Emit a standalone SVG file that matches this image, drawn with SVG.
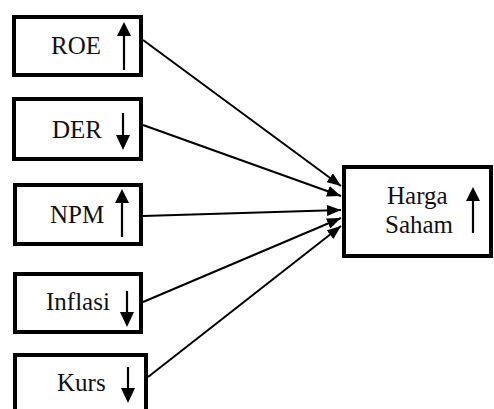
<svg xmlns="http://www.w3.org/2000/svg" width="494" height="409" viewBox="0 0 494 409">
<defs>
<style>
.box{fill:#fff;stroke:#000;stroke-width:4}
.lbl{font-family:'Liberation Serif','Times New Roman',serif;font-size:25px;fill:#111}
.conn{stroke:#000;stroke-width:2;fill:none}
.va{stroke:#000;stroke-width:2.2;fill:none}
.hd{fill:#000}
</style>
<marker id="ah" viewBox="0 0 14 11" refX="14" refY="5.5" markerWidth="14" markerHeight="11" orient="auto" markerUnits="userSpaceOnUse">
<path d="M0,0 L14,5.5 L0,11 z" fill="#000"/>
</marker>
</defs>
<rect width="494" height="409" fill="#fff"/>
<g id="connectors">
<line class="conn" x1="143" y1="40" x2="341" y2="186" marker-end="url(#ah)"/>
<line class="conn" x1="143" y1="125" x2="341" y2="196" marker-end="url(#ah)"/>
<line class="conn" x1="143" y1="216" x2="341" y2="210" marker-end="url(#ah)"/>
<line class="conn" x1="143" y1="302" x2="341" y2="218" marker-end="url(#ah)"/>
<line class="conn" x1="148" y1="377" x2="341" y2="226" marker-end="url(#ah)"/>
</g>
<g id="roe">
<rect class="box" x="14" y="17" width="127" height="58"/>
<text class="lbl" x="51" y="54">ROE</text>
<line class="va" x1="124" y1="70" x2="124" y2="34"/>
<polygon class="hd" points="124,22 117,36 131,36"/>
</g>
<g id="der">
<rect class="box" x="14" y="99" width="127" height="60"/>
<text class="lbl" x="52" y="138">DER</text>
<line class="va" x1="123" y1="113" x2="123" y2="137"/>
<polygon class="hd" points="123,150 116,135 130,135"/>
</g>
<g id="npm">
<rect class="box" x="15" y="185" width="126" height="59"/>
<text class="lbl" x="50" y="223">NPM</text>
<line class="va" x1="122" y1="237" x2="122" y2="201"/>
<polygon class="hd" points="122,189 115,203 129,203"/>
</g>
<g id="inflasi">
<rect class="box" x="15" y="274" width="126" height="58"/>
<text class="lbl" x="46" y="310">Inflasi</text>
<line class="va" x1="127" y1="291" x2="127" y2="314"/>
<polygon class="hd" points="127,327 120,312 134,312"/>
</g>
<g id="kurs">
<rect class="box" x="15" y="355" width="131" height="64"/>
<text class="lbl" x="57" y="391">Kurs</text>
<line class="va" x1="128" y1="367" x2="128" y2="390"/>
<polygon class="hd" points="128,403 121,388 135,388"/>
</g>
<g id="harga">
<rect class="box" x="344" y="167" width="147" height="89"/>
<text class="lbl" x="387" y="204">Harga</text>
<text class="lbl" x="385" y="233">Saham</text>
<line class="va" x1="473" y1="233" x2="473" y2="199"/>
<polygon class="hd" points="473,187 466,201 480,201"/>
</g>
</svg>
